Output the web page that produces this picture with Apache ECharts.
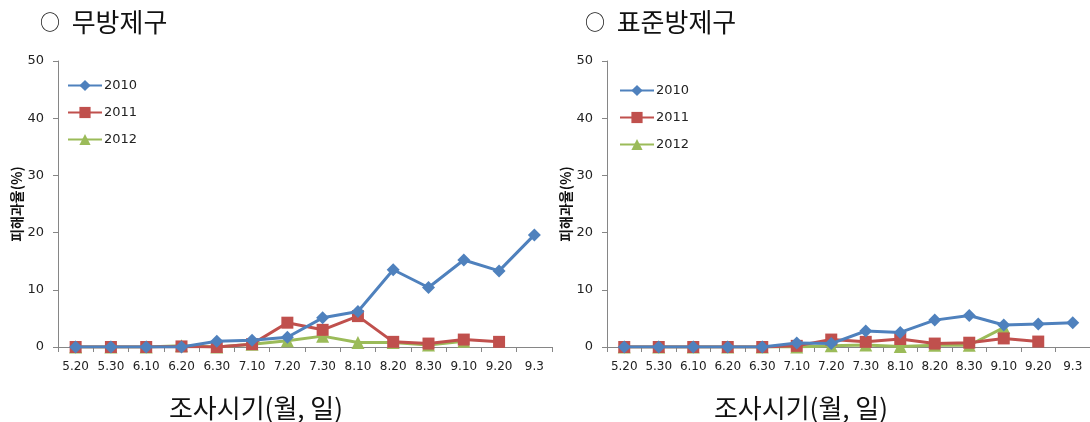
<!DOCTYPE html>
<html>
<head>
<meta charset="utf-8">
<script src="https://cdn.jsdelivr.net/npm/echarts@6/dist/echarts.min.js"></script>
<style>
  html, body { margin: 0; padding: 0; background: #fff; }
  #chart { width: 1090px; height: 422px; }
</style>
</head>
<body>
<div id="chart"></div>
<script>
// Survey dates (month.day)
const categories = ['5.20', '5.30', '6.10', '6.20', '6.30', '7.10', '7.20', '7.30', '8.10', '8.20', '8.30', '9.10', '9.20', '9.3'];
const yTicks = [0, 10, 20, 30, 40, 50];
const years = ['2010', '2011', '2012'];

// Damaged fruit rate (%) — untreated plot
const untreated2010 = [0, 0, 0, 0, 1.0, 1.2, 1.7, 5.1, 6.2, 13.5, 10.4, 15.2, 13.3, 19.6];
const untreated2011 = [0, 0, 0, 0.1, 0, 0.5, 4.25, 3.0, 5.4, 0.9, 0.6, 1.3, 0.9, null];
const untreated2012 = [0, 0, 0, 0.2, 0, 0.5, 1.1, 1.9, 0.8, 0.8, 0.35, 1.0, null, null];

// Damaged fruit rate (%) — standard spray plot
const standard2010 = [0, 0, 0, 0, 0, 0.7, 0.6, 2.8, 2.55, 4.7, 5.5, 3.85, 4.0, 4.25];
const standard2011 = [0, 0, 0, 0, 0, 0.2, 1.3, 0.9, 1.4, 0.6, 0.75, 1.5, 0.95, null];
const standard2012 = [0, 0, 0, 0, 0, 0, 0.2, 0.35, 0.1, 0.3, 0.3, 3.4, null, null];

const colors = ['#4F81BD', '#C0504D', '#9BBB59'];
const symbols = ['diamond', 'rect', 'triangle'];
const symbolSizes = [13, 12, 13];

const axisGray = '#868686';
const tickFont = 'DejaVu Sans, Noto Sans, sans-serif';
const cjk = '"Noto Sans CJK KR", sans-serif';

function makeXAxis(gridIndex) {
  return {
    type: 'category', gridIndex, data: categories, boundaryGap: true,
    axisLine: { lineStyle: { color: axisGray, width: 1 } },
    axisTick: { show: true, length: 5, alignWithLabel: false, lineStyle: { color: axisGray } },
    axisLabel: { color: '#222', fontSize: 12, fontFamily: tickFont, margin: 14, interval: 0 },
    splitLine: { show: false }
  };
}
function makeYAxis(gridIndex) {
  return {
    type: 'value', gridIndex, min: yTicks[0], max: yTicks[yTicks.length - 1], interval: 10,
    name: '피해과율(%)', nameLocation: 'middle', nameRotate: 90, nameGap: 34,
    nameTextStyle: { color: '#111', fontSize: 14, fontWeight: 'bold', fontFamily: cjk },
    axisLine: { show: true, lineStyle: { color: axisGray, width: 1 } },
    axisTick: { show: true, length: 5, lineStyle: { color: axisGray } },
    axisLabel: { color: '#222', fontSize: 13, fontFamily: tickFont, margin: 14 },
    splitLine: { show: false }
  };
}
function makeSeries(data, i, axisIndex) {
  return {
    name: years[i], type: 'line', data,
    xAxisIndex: axisIndex, yAxisIndex: axisIndex,
    symbol: symbols[i], symbolSize: symbolSizes[i],
    showAllSymbol: true, connectNulls: false,
    lineStyle: { color: colors[i], width: 3 },
    itemStyle: { color: colors[i] },
    z: 3 - i
  };
}
function makeLegend(left, top) {
  return {
    data: years, orient: 'vertical', left, top,
    itemWidth: 34, itemHeight: 14, itemGap: 14,
    textStyle: { color: '#222', fontSize: 13, fontFamily: tickFont, padding: [0, 0, 0, -3] }
  };
}
function heading(x, label) {
  return {
    type: 'text', x, y: 22,
    style: {
      text: '{c|○}{t|  ' + label + '}',
      verticalAlign: 'middle',
      rich: {
        c: { fontSize: 20, fontFamily: cjk, fill: '#111' },
        t: { fontSize: 26, fontFamily: cjk, fill: '#111' }
      }
    }
  };
}
function axisTitle(cx) {
  return {
    type: 'text', x: cx, y: 408,
    style: { text: '조사시기(월, 일)', align: 'center', verticalAlign: 'middle', fontSize: 26, fontFamily: cjk, fill: '#111' }
  };
}

const chart = echarts.init(document.getElementById('chart'), null, { renderer: 'canvas' });
chart.setOption({
  backgroundColor: '#fff',
  animation: false,
  graphic: [heading(40, '무방제구'), heading(585, '표준방제구'), axisTitle(256), axisTitle(801)],
  legend: [makeLegend(62, 74), makeLegend(614, 79)],
  grid: [
    { left: 58, top: 61, width: 494, height: 286 },
    { left: 607, top: 61, width: 490, height: 286 }
  ],
  xAxis: [makeXAxis(0), makeXAxis(1)],
  yAxis: [makeYAxis(0), makeYAxis(1)],
  series: [
    makeSeries(untreated2010, 0, 0),
    makeSeries(untreated2011, 1, 0),
    makeSeries(untreated2012, 2, 0),
    makeSeries(standard2010, 0, 1),
    makeSeries(standard2011, 1, 1),
    makeSeries(standard2012, 2, 1)
  ]
});
</script>
</body>
</html>
